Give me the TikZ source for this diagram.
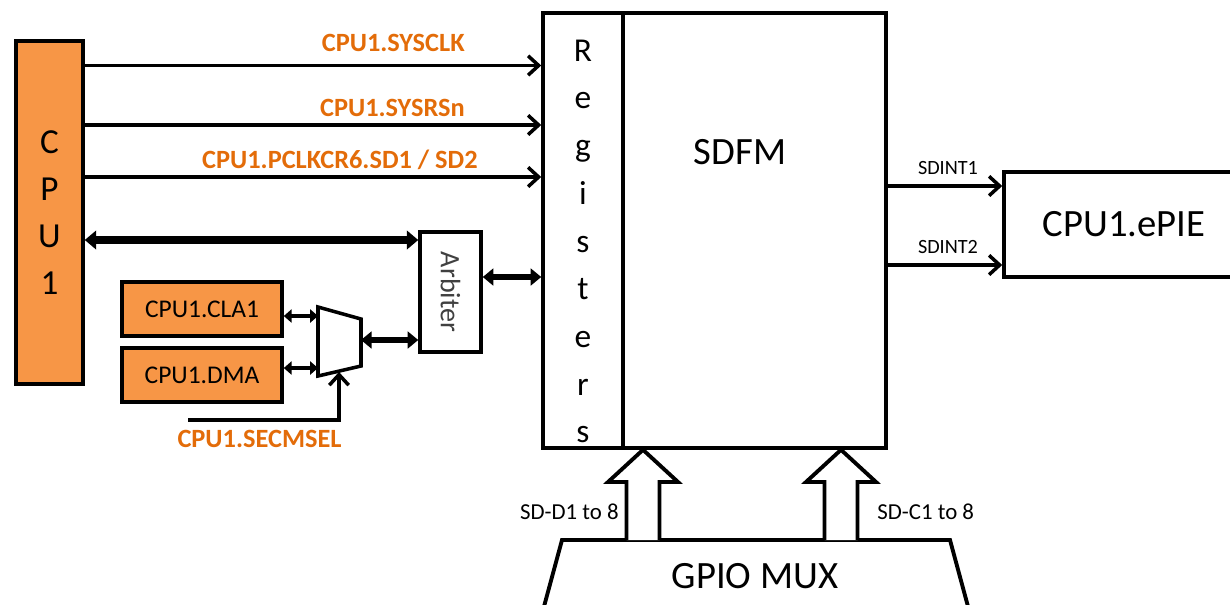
\documentclass[tikz,border=0pt]{standalone}
\usepackage{fontspec}
\setmainfont{Carlito}
\usepackage{tikz}
\usetikzlibrary{arrows.meta,positioning,calc}
\definecolor{cpuorange}{HTML}{F79646}
\definecolor{sigorange}{HTML}{E36C09}

\begin{document}
\begin{tikzpicture}[
  blk/.style={rectangle, draw, line width=2pt, inner sep=0pt},
  cpublk/.style={blk, fill=cpuorange, font=\fontsize{14.5}{17}\selectfont},
  sig/.style={line width=2pt, -{Straight Barb[length=6pt,width=11pt]}},
  siglbl/.style={font=\fontsize{15}{18}\selectfont\bfseries, text=sigorange, inner sep=0pt},
  small/.style={font=\fontsize{11.5}{14}\selectfont, inner sep=0pt},
  bus/.style={line width=4pt, {Triangle[length=6.5pt,width=10.5pt]}-{Triangle[length=6.5pt,width=10.5pt]}},
  midbus/.style={line width=3.2pt, {Triangle[length=6pt,width=9.5pt]}-{Triangle[length=6pt,width=9.5pt]}},
  thinbus/.style={line width=2.5pt, {Triangle[length=4.5pt,width=7.5pt]}-{Triangle[length=4.5pt,width=7.5pt]}},
  blkarrow/.style={line width=2.2pt, fill=white, line join=miter},
  big/.style={font=\fontsize{22}{26}\selectfont}
]
\useasboundingbox (0,0) rectangle (24.6,-12.08);

% CPU1 und Registerblock
\node[cpublk, minimum width=1.34cm, minimum height=6.86cm, align=center,
  font=\fontsize{20}{26.9}\selectfont] (cpu) at (0.99,-4.25) {C\\P\\U\\1};
\node[blk, minimum width=6.86cm, minimum height=8.7cm] (sdfm) at (14.29,-4.61) {};
\node[blk, minimum width=1.6cm, minimum height=8.7cm] (regs) at (11.66,-4.61) {};
\node[align=center, font=\fontsize{19}{27.15}\selectfont] (regtxt) at (11.66,-4.83)
  {R\\e\\g\\i\\s\\t\\e\\r\\s};
\node[big] (sdfmtxt) at (14.8,-3.04) {SDFM};
\node[blk, big, minimum width=4.8cm, minimum height=2.1cm] (epie) at (22.48,-4.49) {CPU1.ePIE};

% Steuersignale
\draw[sig] (cpu.east |- 0,-1.31) -- (regs.west |- 0,-1.31);
\draw[sig] (cpu.east |- 0,-2.5) -- (regs.west |- 0,-2.5);
\draw[sig] (cpu.east |- 0,-3.54) -- (regs.west |- 0,-3.54);
\node[siglbl, anchor=base east] (lclk) at (9.3,-1.02) {CPU1.SYSCLK};
\node[siglbl, anchor=base east] (lrst) at (9.3,-2.32) {CPU1.SYSRSn};
\node[siglbl, anchor=base east] (lpclk) at (9.56,-3.36) {CPU1.PCLKCR6.SD1 / SD2};

% Interrupts
\draw[sig] (sdfm.east |- 0,-3.72) -- (epie.west |- 0,-3.72);
\draw[sig] (sdfm.east |- 0,-5.3) -- (epie.west |- 0,-5.3);
\node[small, anchor=base] (int1) at (18.96,-3.48) {SDINT1};
\node[small, anchor=base] (int2) at (18.96,-5.06) {SDINT2};

% Arbiter und Master
\node[blk, minimum width=1.22cm, minimum height=2.4cm, text=black!75,
  font=\fontsize{16}{19}\selectfont] (arb) at (9.01,-5.84) {\rotatebox{-90}{Arbiter}};
\node[cpublk, minimum width=3.2cm, minimum height=1.08cm] (cla) at (4.04,-6.18) {CPU1.CLA1};
\node[cpublk, minimum width=3.2cm, minimum height=1.08cm] (dma) at (4.04,-7.5) {CPU1.DMA};

\draw[bus] (cpu.east |- 0,-4.8) -- (arb.west |- 0,-4.8);
\draw[midbus] (arb.east |- 0,-5.54) -- (regs.west |- 0,-5.54);

% Multiplexer
\draw[line width=2pt, line join=miter] (6.36,-6.14) -- (7.22,-6.38) -- (7.22,-7.32) -- (6.36,-7.52) -- cycle;
\coordinate (muxa) at (6.36,-6.32);
\coordinate (muxb) at (6.36,-7.36);
\coordinate (muxout) at (7.22,-6.8);
\coordinate (muxsel) at (6.78,-7.44);
\coordinate (selstart) at (3.76,-8.4);

\draw[thinbus] (cla.east |- muxa) -- (muxa);
\draw[thinbus] (dma.east |- muxb) -- (muxb);
\draw[midbus] (muxout) -- (arb.west |- muxout);
\draw[sig] (selstart) -| (muxsel);
\node[siglbl, anchor=base] (lsel) at (5.19,-8.94) {CPU1.SECMSEL};

% GPIO MUX
\draw[line width=2.2pt, line join=miter] (10.78,-12.5) -- (11.24,-10.8) -- (19.0,-10.8) -- (19.46,-12.5);
\node[big, anchor=base] (gpio) at (15.1,-11.76) {GPIO MUX};
\foreach \cx in {12.86,16.82} {
  \draw[blkarrow] (\cx-0.33,-10.8) -- (\cx-0.33,-9.64) -- (\cx-0.7,-9.64)
    -- (sdfm.south -| \cx,0) -- (\cx+0.7,-9.64) -- (\cx+0.33,-9.64) -- (\cx+0.33,-10.8);
}
\node[font=\fontsize{13}{15}\selectfont, inner sep=0pt, anchor=base east] (sdd) at (12.38,-10.38) {SD-D1 to 8};
\node[font=\fontsize{13}{15}\selectfont, inner sep=0pt, anchor=base west] (sdc) at (17.54,-10.38) {SD-C1 to 8};
\end{tikzpicture}
\end{document}
